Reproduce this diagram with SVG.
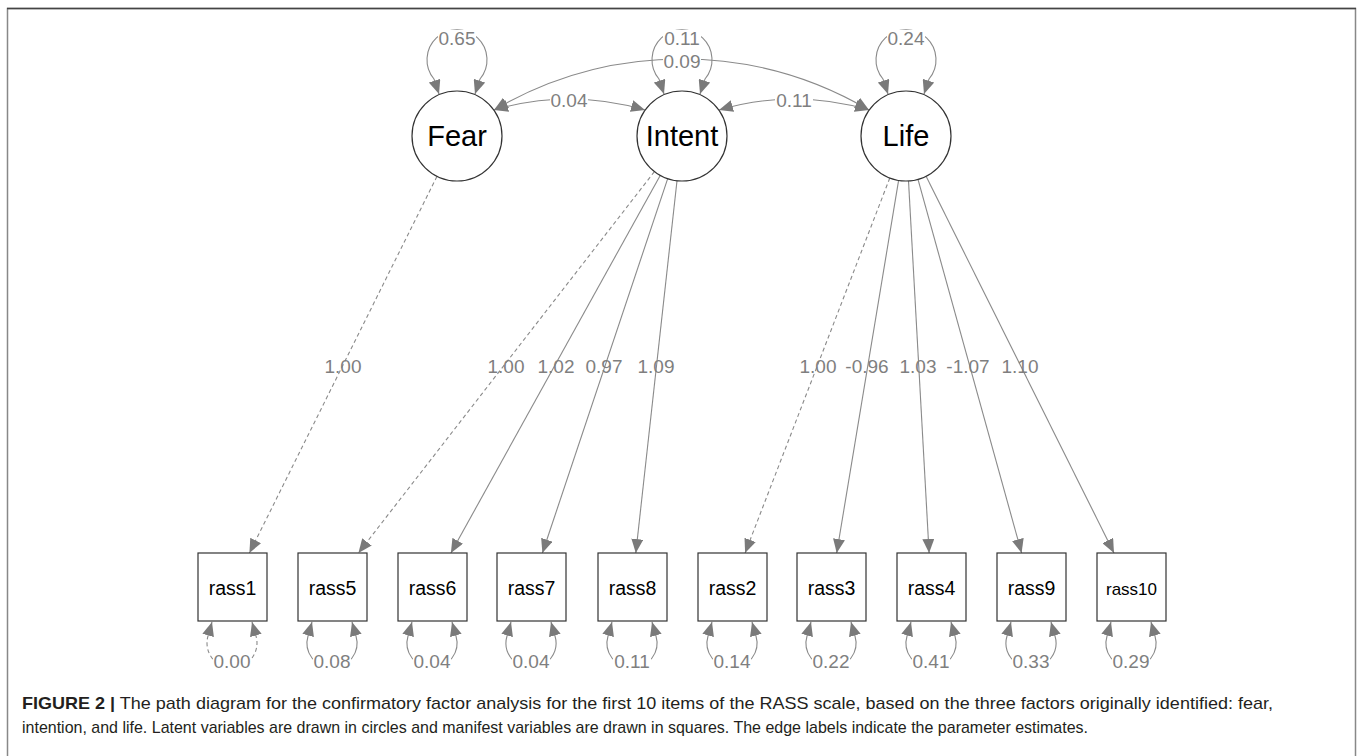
<svg xmlns="http://www.w3.org/2000/svg" width="1358" height="756" viewBox="0 0 1358 756">
<style>
.edge{fill:none;stroke:#8a8a8a;stroke-width:1.1}
.dash{stroke-dasharray:4,3}
.lat{fill:#fff;stroke:#333;stroke-width:1.2}
.man{fill:#fff;stroke:#333;stroke-width:1.2}
.nt{font-family:"Liberation Sans",Arial,sans-serif;fill:#000;text-anchor:middle}
.el{font-family:"Liberation Sans",Arial,sans-serif;font-size:19px;fill:#7f7f7f;text-anchor:middle}
.bg{fill:#fff}
.cap{font-family:"Liberation Sans",Arial,sans-serif;font-size:17px;fill:#231f20}
</style>
<defs>
<marker id="ah" markerWidth="14" markerHeight="12" refX="14" refY="6" orient="auto-start-reverse" markerUnits="userSpaceOnUse">
<path d="M0,0 L14,6 L0,12 z" fill="#7a7a7a"/>
</marker>
</defs>
<rect width="1358" height="756" fill="#fff"/>
<path d="M7.5,780 V8.5 H1355.5 V780" fill="none" stroke="#888" stroke-width="1.5"/>
<line x1="7" y1="8.5" x2="1356" y2="8.5" stroke="#444" stroke-width="1.5"/>

<g id="connectors">
<path class="edge" d="M439,94 L434,79 A30,30 0 1 1 480,79 L475,94" marker-start="url(#ah)" marker-end="url(#ah)"/>
<path class="edge" d="M664,94 L659,79 A30,30 0 1 1 705,79 L700,94" marker-start="url(#ah)" marker-end="url(#ah)"/>
<path class="edge" d="M888,94 L883,79 A30,30 0 1 1 929,79 L924,94" marker-start="url(#ah)" marker-end="url(#ah)"/>
<path class="edge" d="M494,110 A370,370 0 0 1 869,110" marker-start="url(#ah)" marker-end="url(#ah)"/>
<path class="edge" d="M494,110 Q569,88 645,110" marker-start="url(#ah)" marker-end="url(#ah)"/>
<path class="edge" d="M719,110 Q794,88 869,110" marker-start="url(#ah)" marker-end="url(#ah)"/>
<line class="edge dash" x1="437" y1="176.3" x2="249.4" y2="553" marker-end="url(#ah)"/>
<line class="edge dash" x1="654.4" y1="171.6" x2="358.4" y2="553" marker-end="url(#ah)"/>
<line class="edge" x1="660.2" y1="175.4" x2="450.9" y2="553" marker-end="url(#ah)"/>
<line class="edge" x1="667.7" y1="178.7" x2="542.4" y2="553" marker-end="url(#ah)"/>
<line class="edge" x1="677" y1="180.7" x2="635.8" y2="553" marker-end="url(#ah)"/>
<line class="edge dash" x1="889.8" y1="178" x2="745.1" y2="553" marker-end="url(#ah)"/>
<line class="edge" x1="898.6" y1="180.4" x2="836.7" y2="553" marker-end="url(#ah)"/>
<line class="edge" x1="908.5" y1="180.9" x2="929.1" y2="553" marker-end="url(#ah)"/>
<line class="edge" x1="918" y1="179.4" x2="1021.6" y2="553" marker-end="url(#ah)"/>
<line class="edge" x1="926.1" y1="176.3" x2="1114" y2="553" marker-end="url(#ah)"/>
<path class="edge dash" d="M212,622 L208,636 A25,25 0 1 0 256,636 L252,622" marker-start="url(#ah)" marker-end="url(#ah)"/>
<path class="edge" d="M312,622 L308,636 A25,25 0 1 0 356,636 L352,622" marker-start="url(#ah)" marker-end="url(#ah)"/>
<path class="edge" d="M412,622 L408,636 A25,25 0 1 0 456,636 L452,622" marker-start="url(#ah)" marker-end="url(#ah)"/>
<path class="edge" d="M511,622 L507,636 A25,25 0 1 0 555,636 L551,622" marker-start="url(#ah)" marker-end="url(#ah)"/>
<path class="edge" d="M612,622 L608,636 A25,25 0 1 0 656,636 L652,622" marker-start="url(#ah)" marker-end="url(#ah)"/>
<path class="edge" d="M712,622 L708,636 A25,25 0 1 0 756,636 L752,622" marker-start="url(#ah)" marker-end="url(#ah)"/>
<path class="edge" d="M811,622 L807,636 A25,25 0 1 0 855,636 L851,622" marker-start="url(#ah)" marker-end="url(#ah)"/>
<path class="edge" d="M911,622 L907,636 A25,25 0 1 0 955,636 L951,622" marker-start="url(#ah)" marker-end="url(#ah)"/>
<path class="edge" d="M1011,622 L1007,636 A25,25 0 1 0 1055,636 L1051,622" marker-start="url(#ah)" marker-end="url(#ah)"/>
<path class="edge" d="M1111,622 L1107,636 A25,25 0 1 0 1155,636 L1151,622" marker-start="url(#ah)" marker-end="url(#ah)"/>
</g>

<g id="edge-labels">
<rect class="bg" x="438" y="30" width="38" height="16"/><text class="el" x="457" y="45">0.65</text>
<rect class="bg" x="663" y="30" width="38" height="16"/><text class="el" x="682" y="45">0.11</text>
<rect class="bg" x="887" y="30" width="38" height="16"/><text class="el" x="906" y="45">0.24</text>
<rect class="bg" x="663" y="53" width="38" height="16"/><text class="el" x="682" y="68">0.09</text>
<rect class="bg" x="550" y="92" width="38" height="16"/><text class="el" x="569" y="107">0.04</text>
<rect class="bg" x="775" y="92" width="38" height="16"/><text class="el" x="794" y="107">0.11</text>
<text class="el" x="343" y="373">1.00</text>
<text class="el" x="506" y="373">1.00</text>
<text class="el" x="556" y="373">1.02</text>
<text class="el" x="604" y="373">0.97</text>
<text class="el" x="656" y="373">1.09</text>
<text class="el" x="818" y="373">1.00</text>
<text class="el" x="867" y="373">-0.96</text>
<text class="el" x="918" y="373">1.03</text>
<text class="el" x="968" y="373">-1.07</text>
<text class="el" x="1020" y="373">1.10</text>
<rect class="bg" x="213" y="653" width="38" height="16"/><text class="el" x="232" y="668">0.00</text>
<rect class="bg" x="313" y="653" width="38" height="16"/><text class="el" x="332" y="668">0.08</text>
<rect class="bg" x="413" y="653" width="38" height="16"/><text class="el" x="432" y="668">0.04</text>
<rect class="bg" x="512" y="653" width="38" height="16"/><text class="el" x="531" y="668">0.04</text>
<rect class="bg" x="613" y="653" width="38" height="16"/><text class="el" x="632" y="668">0.11</text>
<rect class="bg" x="713" y="653" width="38" height="16"/><text class="el" x="732" y="668">0.14</text>
<rect class="bg" x="812" y="653" width="38" height="16"/><text class="el" x="831" y="668">0.22</text>
<rect class="bg" x="912" y="653" width="38" height="16"/><text class="el" x="931" y="668">0.41</text>
<rect class="bg" x="1012" y="653" width="38" height="16"/><text class="el" x="1031" y="668">0.33</text>
<rect class="bg" x="1112" y="653" width="38" height="16"/><text class="el" x="1131" y="668">0.29</text>
</g>

<g id="node-fear"><circle class="lat" cx="457" cy="136" r="45"/><text class="nt" x="457" y="146" font-size="29">Fear</text></g>
<g id="node-intent"><circle class="lat" cx="682" cy="136" r="45"/><text class="nt" x="682" y="146" font-size="29">Intent</text></g>
<g id="node-life"><circle class="lat" cx="906" cy="136" r="45"/><text class="nt" x="906" y="146" font-size="29">Life</text></g>

<g id="node-rass1"><rect class="man" x="198" y="553" width="69" height="68"/><text class="nt" x="232.5" y="595" font-size="19.5">rass1</text></g>
<g id="node-rass5"><rect class="man" x="298" y="553" width="69" height="68"/><text class="nt" x="332.5" y="595" font-size="19.5">rass5</text></g>
<g id="node-rass6"><rect class="man" x="398" y="553" width="69" height="68"/><text class="nt" x="432.5" y="595" font-size="19.5">rass6</text></g>
<g id="node-rass7"><rect class="man" x="497" y="553" width="69" height="68"/><text class="nt" x="531.5" y="595" font-size="19.5">rass7</text></g>
<g id="node-rass8"><rect class="man" x="598" y="553" width="69" height="68"/><text class="nt" x="632.5" y="595" font-size="19.5">rass8</text></g>
<g id="node-rass2"><rect class="man" x="698" y="553" width="69" height="68"/><text class="nt" x="732.5" y="595" font-size="19.5">rass2</text></g>
<g id="node-rass3"><rect class="man" x="797" y="553" width="69" height="68"/><text class="nt" x="831.5" y="595" font-size="19.5">rass3</text></g>
<g id="node-rass4"><rect class="man" x="897" y="553" width="69" height="68"/><text class="nt" x="931.5" y="595" font-size="19.5">rass4</text></g>
<g id="node-rass9"><rect class="man" x="997" y="553" width="69" height="68"/><text class="nt" x="1031.5" y="595" font-size="19.5">rass9</text></g>
<g id="node-rass10"><rect class="man" x="1097" y="553" width="69" height="68"/><text class="nt" x="1131.5" y="595" font-size="17">rass10</text></g>

<g id="caption">
<text class="cap" x="22" y="709" textLength="1251" lengthAdjust="spacingAndGlyphs"><tspan font-weight="bold">FIGURE 2 |</tspan> The path diagram for the confirmatory factor analysis for the first 10 items of the RASS scale, based on the three factors originally identified: fear,</text>
<text class="cap" x="22" y="733" textLength="1066" lengthAdjust="spacingAndGlyphs">intention, and life. Latent variables are drawn in circles and manifest variables are drawn in squares. The edge labels indicate the parameter estimates.</text>
</g>
</svg>
